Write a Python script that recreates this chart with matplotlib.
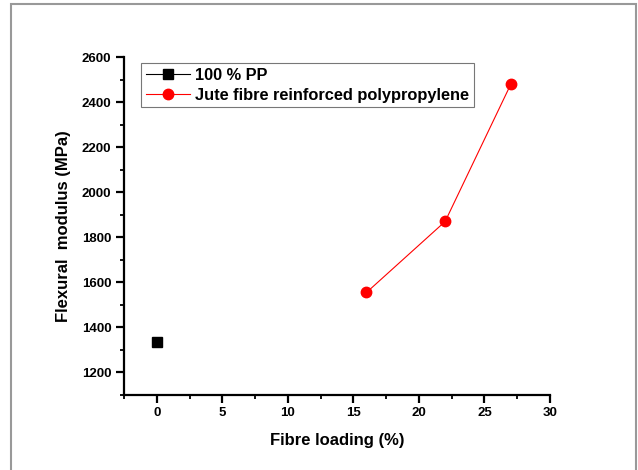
import matplotlib
matplotlib.use("Agg")
import matplotlib.pyplot as plt
from matplotlib.patches import Rectangle
from matplotlib.ticker import MultipleLocator

plt.rcParams['font.family'] = ['Liberation Sans', 'DejaVu Sans']
plt.rcParams['font.weight'] = 'bold'

pp_x = [0]
pp_y = [1333]
jute_x = [16, 22, 27]
jute_y = [1555, 1870, 2478]
labels = ["100 % PP", "Jute fibre reinforced polypropylene"]

W, H = 638, 470
fig = plt.figure(figsize=(W/100, H/100), dpi=100)
fig.patches.append(Rectangle((11/W, -0.1), (636-11)/W, 1.1 - 4/H, transform=fig.transFigure,
                             fill=False, edgecolor='#999999', linewidth=1.5))
ax = fig.add_axes([124/W, 1 - 395/H, (550-124)/W, (395-57)/H])

ax.plot(pp_x, pp_y, color='black', marker='s', markersize=6.5, linewidth=0.8, label=labels[0])
ax.plot(jute_x, jute_y, color='red', marker='o', markersize=7.5, linewidth=0.8, label=labels[1])

ax.set_xlim(-2.5, 30)
ax.set_ylim(1100, 2600)
ax.xaxis.set_major_locator(MultipleLocator(5))
ax.xaxis.set_minor_locator(MultipleLocator(2.5))
ax.yaxis.set_minor_locator(MultipleLocator(100))
ax.set_yticks(range(1200, 2601, 200))
ax.spines['top'].set_visible(False)
ax.spines['right'].set_visible(False)
for s in ('left', 'bottom'):
    ax.spines[s].set_linewidth(1.6)
ax.tick_params(which='major', direction='out', length=6, width=1.6, labelsize=9.5, pad=3)
ax.tick_params(which='minor', direction='out', length=3, width=1.3)
for lab in ax.get_xticklabels() + ax.get_yticklabels():
    lab.set_fontweight('bold')

ax.set_xlabel("Fibre loading (%)", fontsize=12, fontweight='bold', labelpad=10)
ax.set_ylabel("Flexural  modulus (MPa)", fontsize=12, fontweight='bold', labelpad=8)

leg = ax.legend(loc='upper left', bbox_to_anchor=(17/426, 1 - 6/338), frameon=True,
                fancybox=False, edgecolor='#555555', handlelength=2.7, borderpad=0.3,
                labelspacing=0.28, handletextpad=0.3, borderaxespad=0,
                prop={'weight': 'bold', 'size': 11.8})
leg.get_frame().set_linewidth(0.8)

fig.savefig("out.png", dpi=100)
